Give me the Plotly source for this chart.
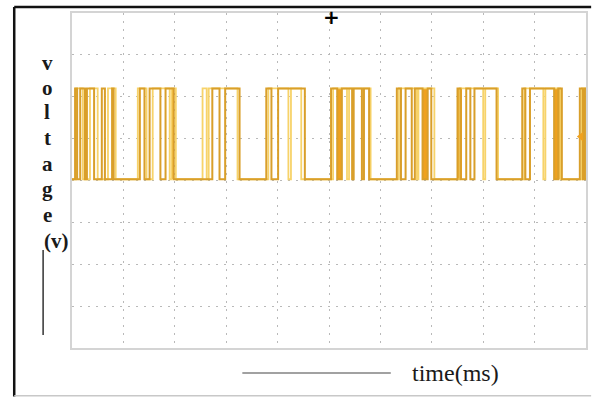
import plotly.graph_objects as go

# ---- data (time in ms, 10 divisions across the screen; voltage in divisions) ----
HIGH_LEVEL = 6.2
LOW_LEVEL = 4.03

# main (goldenrod) trace: transition times, starting from low
main_edges = [0.06, 0.10, 0.16, 0.25, 0.29, 0.43, 0.58, 0.64, 0.78, 0.81,
              1.32, 1.41, 1.51, 1.72, 1.82, 1.98,
              2.73, 2.87, 2.98, 3.26,
              3.78, 3.88, 4.01, 4.53,
              5.04, 5.16, 5.25, 5.45, 5.48, 5.64, 5.68, 5.78,
              6.32, 6.40, 6.49, 6.61, 6.67, 6.82, 6.92, 6.99,
              7.50, 7.56, 7.67, 7.75, 7.83, 8.26,
              8.76, 8.82, 8.91, 9.38, 9.46, 9.53,
              9.88, 9.94, 9.98]

# fainter persistence trace (light yellow)
ghost_edges = [0.08, 0.21, 0.35, 0.50, 0.70, 0.85,
               1.28, 1.45, 1.57, 1.90, 1.94, 2.02,
               2.54, 2.62, 2.66, 3.22,
               3.82, 4.21, 4.26, 4.46,
               5.08, 5.35, 5.39, 5.81,
               6.36, 6.71, 6.74, 7.05,
               7.54, 8.00, 8.04, 8.29,
               8.80, 9.17, 9.21, 9.50,
               9.92]

# dense bursts of edges (thick orange bands)
burst_center = [0.26, 1.95, 5.20, 6.87, 7.55, 9.45, 9.93]
burst_width = [0.04, 0.06, 0.09, 0.10, 0.09, 0.15, 0.06]

T_START, T_END = 0.0, 10.0


def square_wave(edges):
    xs = [T_START]
    ys = [LOW_LEVEL]
    level = LOW_LEVEL
    for e in edges:
        level = HIGH_LEVEL if level == LOW_LEVEL else LOW_LEVEL
        xs.append(e)
        ys.append(level)
    xs.append(T_END)
    ys.append(level)
    return xs, ys


fig = go.Figure()

gx, gy = square_wave(ghost_edges)
fig.add_trace(go.Scatter(x=gx, y=gy, mode="lines", line_shape="hv",
                         line=dict(color="#F7D36A", width=1.8),
                         hoverinfo="skip", showlegend=False))

fig.add_trace(go.Bar(x=burst_center, width=burst_width,
                     base=[LOW_LEVEL] * len(burst_center),
                     y=[HIGH_LEVEL - LOW_LEVEL] * len(burst_center),
                     marker=dict(color="#EFA11E", line=dict(width=0)),
                     hoverinfo="skip", showlegend=False))

mx, my = square_wave(main_edges)
fig.add_trace(go.Scatter(x=mx, y=my, mode="lines", line_shape="hv",
                         line=dict(color="#D99F2A", width=2),
                         hoverinfo="skip", showlegend=False))

# trigger / level markers
fig.add_trace(go.Scatter(x=[-0.08], y=[LOW_LEVEL], mode="markers",
                         marker=dict(symbol="triangle-right", size=6, color="#EFA11E"),
                         cliponaxis=False, hoverinfo="skip", showlegend=False))
fig.add_trace(go.Scatter(x=[9.9], y=[5.05], mode="markers",
                         marker=dict(symbol="triangle-left", size=8, color="#EFA11E"),
                         cliponaxis=False, hoverinfo="skip", showlegend=False))

grid_style = dict(showgrid=True, gridcolor="#b9b9b9", griddash="2px,6px", gridwidth=1,
                  zeroline=False, showticklabels=False, ticks="",
                  showline=True, linecolor="#d4d4d4", linewidth=2, mirror=True)

fig.update_xaxes(range=[T_START, T_END], dtick=1, tick0=0, **grid_style)
fig.update_yaxes(range=[0, 8], dtick=1, tick0=0, **grid_style)

# outer frame and hand-drawn axis lines (paper coords)
shapes = [
    dict(type="line", xref="paper", yref="paper", x0=-0.1124, x1=-0.1124, y0=1.018, y1=-0.145,
         line=dict(color="#111111", width=2.5)),
    dict(type="line", xref="paper", yref="paper", x0=-0.1124, x1=1.01, y0=1.018, y1=1.018,
         line=dict(color="#111111", width=2.5)),
    dict(type="line", xref="paper", yref="paper", x0=-0.1124, x1=1.01, y0=-0.1425, y1=-0.1425,
         line=dict(color="#c8c8c8", width=1.5)),
    dict(type="line", xref="paper", yref="paper", x0=-0.0562, x1=-0.0562, y0=0.2925, y1=0.0388,
         line=dict(color="#333333", width=1.5)),
    dict(type="line", xref="paper", yref="paper", x0=0.3314, x1=0.6202, y0=-0.0746, y1=-0.0746,
         line=dict(color="#444444", width=1.2)),
]

ylabel = ["v", "o", "l", "t", "a", "g", "e"]
ylabel_px = [63, 88, 112, 138, 164, 189, 215]
annotations = []
for ch, py in zip(ylabel, ylabel_px):
    annotations.append(dict(text="<b>" + ch + "</b>", xref="paper", yref="paper",
                            x=(47 - 72) / 516, y=(348 - py) / 335,
                            showarrow=False, xanchor="center", yanchor="middle",
                            font=dict(family="Liberation Serif", size=21, color="#1a1a1a")))
annotations.append(dict(text="<b>(v)</b>", xref="paper", yref="paper",
                        x=(56 - 72) / 516, y=(348 - 241) / 335,
                        showarrow=False, xanchor="center", yanchor="middle",
                        font=dict(family="Liberation Serif", size=21, color="#1a1a1a")))
annotations.append(dict(text="time(ms)", xref="paper", yref="paper",
                        x=(457 - 72) / 516, y=(348 - 373) / 335,
                        showarrow=False, xanchor="center", yanchor="middle",
                        font=dict(family="Liberation Serif", size=24, color="#1a1a1a")))
annotations.append(dict(text="<b>+</b>", xref="paper", yref="paper",
                        x=(333 - 72) / 516, y=(348 - 17) / 335,
                        showarrow=False, xanchor="center", yanchor="middle",
                        font=dict(family="DejaVu Sans", size=20, color="#000000")))

fig.update_layout(
    width=592, height=397,
    margin=dict(l=72, r=4, t=13, b=49),
    paper_bgcolor="white", plot_bgcolor="white",
    shapes=shapes, annotations=annotations,
    barmode="overlay", bargap=0,
    showlegend=False,
)

fig.write_html("out.html",
               config={"displayModeBar": False},
               post_script="document.body.style.margin='0';document.body.style.overflow='hidden';")
